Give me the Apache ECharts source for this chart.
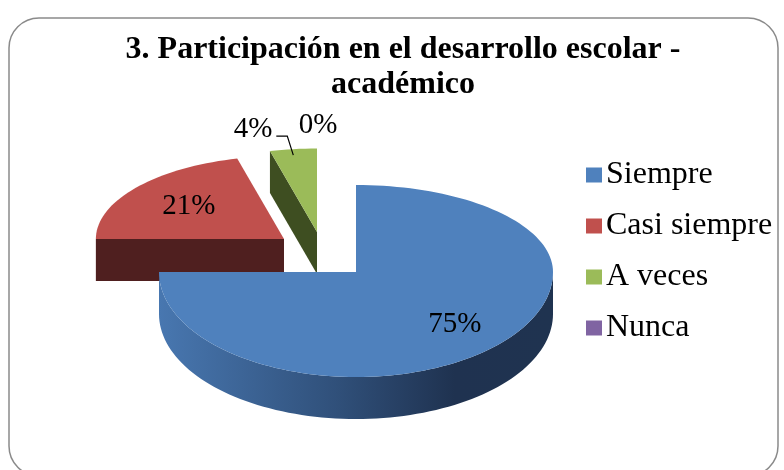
<!DOCTYPE html>
<html>
<head>
<meta charset="utf-8">
<script src="https://cdn.jsdelivr.net/npm/echarts@6/dist/echarts.min.js"></script>
<style>
  html, body { margin: 0; padding: 0; background: #fff; }
  #chart { width: 784px; height: 470px; }
</style>
</head>
<body>
<div id="chart"></div>
<script>
// datos
const categories = ['Siempre', 'Casi siempre', 'A veces', 'Nunca'];
const percents = [75, 21, 4, 0];
const titleText = '3. Participación en el desarrollo escolar -\nacadémico';

// estilo (no son datos)
const topColors = ['#4f81bd', '#c0504d', '#9bbb59', '#8064a2'];
const sideColors = [
  { type: 'linear', x: 0, y: 0, x2: 1, y2: 0, colorStops: [
    { offset: 0, color: '#4877b0' },
    { offset: 0.45, color: '#30507a' },
    { offset: 0.75, color: '#1f3250' },
    { offset: 1, color: '#1f3350' }
  ] },
  '#4f1f1f', '#3e4e21', '#403251'
];
const explode = [[0, 0], [-72, -33], [-39, -40], [0, 0]];
const depthScale = [1, 0.955, 0.96, 1];   // perspectiva: las porciones del fondo se ven algo menores
const labelInside = [true, true, false, false];
const labelFrac = [0.71, 0.64, 1, 1];
const outsideOffset = [null, null, [-21, -20, 'right'], [-38, -60, 'center']];
const CX = 356, CY = 272, RX = 197, RY_UP = 87, RY_DOWN = 105, DEPTH = 42;
const labelFont = '29px "Liberation Serif"';

const myChart = echarts.init(document.getElementById('chart'));

function sliceRender(k) {
  return function (params, api) {
    const total = percents.reduce((a, b) => a + b, 0);
    let start = 0;
    for (let i = 0; i < k; i++) start += percents[i];
    const a0 = start / total * 360;
    const a1 = (start + api.value(0)) / total * 360;
    const ox = CX + explode[k][0], oy = CY + explode[k][1];
    const s = depthScale[k];
    const pt = (deg, z, f) => {
      f = (f || 1) * s;
      const r = deg * Math.PI / 180;
      const c = Math.cos(r);
      return [ox + RX * Math.sin(r) * f, oy - (c > 0 ? RY_UP : RY_DOWN) * c * f + z];
    };
    const arc = (from, to, z) => {
      const pts = [];
      const n = Math.max(2, Math.ceil((to - from) / 2));
      for (let j = 0; j <= n; j++) pts.push(pt(from + (to - from) * j / n, z));
      return pts;
    };
    const children = [];
    const center = [ox, oy], centerLow = [ox, oy + DEPTH];
    if (a1 > a0) {
      // caras radiales visibles
      if (Math.sin(a0 * Math.PI / 180) < -1e-6) {
        children.push({ type: 'polygon', shape: { points: [center, pt(a0, 0), pt(a0, DEPTH), centerLow] },
          style: { fill: sideColors[k] } });
      }
      if (Math.sin(a1 * Math.PI / 180) > 1e-6) {
        children.push({ type: 'polygon', shape: { points: [center, pt(a1, 0), pt(a1, DEPTH), centerLow] },
          style: { fill: sideColors[k] } });
      }
      // lado exterior (parte frontal)
      const s0 = Math.max(a0, 90), s1 = Math.min(a1, 270);
      if (s1 > s0) {
        children.push({ type: 'polygon',
          shape: { points: arc(s0, s1, 0).concat(arc(s0, s1, DEPTH).reverse()) },
          style: { fill: sideColors[k] } });
      }
      // cara superior
      children.push({ type: 'polygon', shape: { points: [center].concat(arc(a0, a1, 0)) },
        style: { fill: topColors[k] } });
    }
    const mid = (a0 + a1) / 2;
    const txt = api.value(0) + '%';
    if (labelInside[k]) {
      const p = pt(mid, 0, labelFrac[k]);
      children.push({ type: 'text', x: p[0], y: p[1],
        style: { text: txt, font: labelFont, fill: '#000', align: 'center', verticalAlign: 'middle',
          textAlign: 'center', textVerticalAlign: 'middle' } });
    } else {
      const p = pt(mid, 0);
      const off = outsideOffset[k];
      children.push({ type: 'text', x: p[0] + off[0], y: p[1] + off[1],
        style: { text: txt, font: labelFont, fill: '#000', align: off[2], verticalAlign: 'middle',
          textAlign: off[2], textVerticalAlign: 'middle' } });
      if (a1 > a0) {
        children.push({ type: 'polyline',
          shape: { points: [[p[0], p[1] + 6], [p[0] - 6, p[1] - 13], [p[0] - 17, p[1] - 13]] },
          style: { stroke: '#000', lineWidth: 1.2, fill: null } });
      }
    }
    return { type: 'group', children: children };
  };
}

const series = categories.map((name, k) => ({
  name: name,
  type: 'custom',
  coordinateSystem: 'none',
  z: 10 - k,
  itemStyle: { color: topColors[k] },
  data: [[percents[k]]],
  renderItem: sliceRender(k)
}));

myChart.setOption({
  animation: false,
  backgroundColor: '#fff',
  legend: {
    orient: 'vertical',
    left: 581,
    top: 153,
    itemWidth: 16,
    itemHeight: 15,
    itemGap: 17,
    icon: 'rect',
    selectedMode: false,
    data: categories,
    textStyle: { fontFamily: 'Liberation Serif', fontSize: 32, color: '#000', lineHeight: 34, padding: [0, 0, 0, -1] }
  },
  graphic: [
    {
      type: 'rect',
      shape: { x: 9, y: 18, width: 769, height: 458, r: 30 },
      style: { fill: 'none', stroke: '#8a8a8a', lineWidth: 1.5 },
      silent: true
    },
    {
      type: 'text',
      x: 403,
      y: 32,
      style: {
        text: titleText,
        font: 'bold 32px "Liberation Serif"',
        lineHeight: 35,
        fill: '#000',
        align: 'center',
        verticalAlign: 'top',
        textAlign: 'center'
      }
    }
  ],
  series: series
});

window.addEventListener('resize', () => {
  myChart.resize();
});
</script>
</body>
</html>
